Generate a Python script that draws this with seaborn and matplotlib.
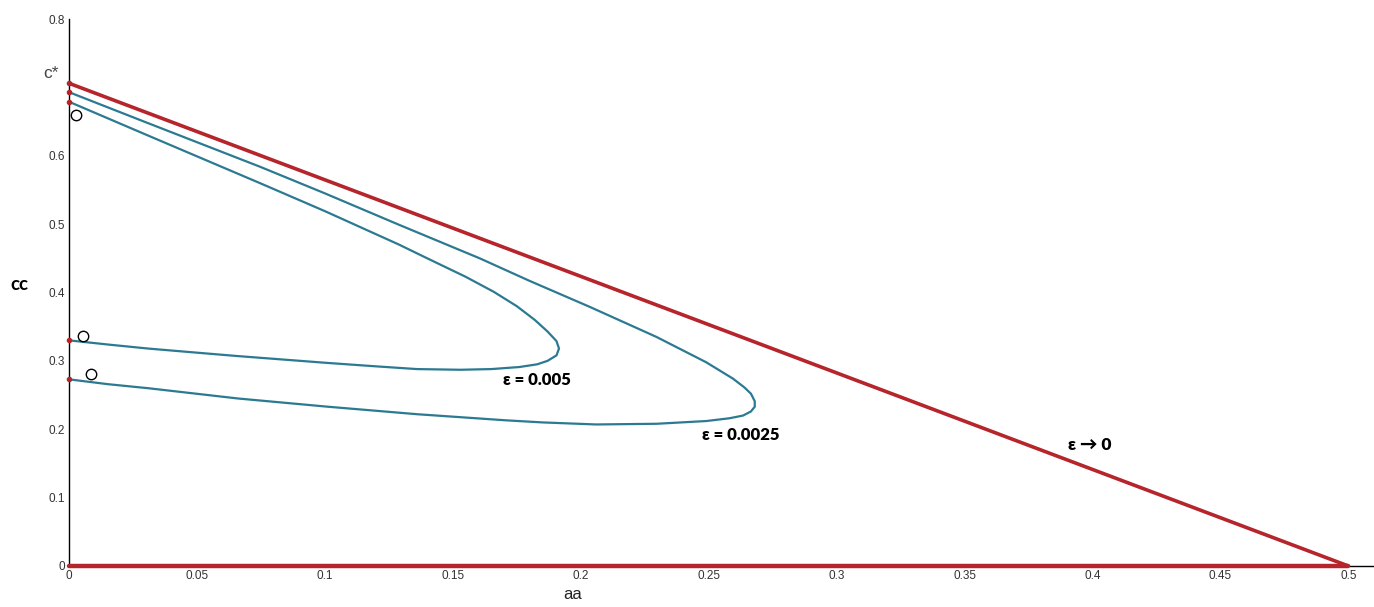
import numpy as np
import pandas as pd
import matplotlib
matplotlib.use('Agg')
import matplotlib.pyplot as plt
import seaborn as sns

# values
c_star = 0.706
a_limit = [0.0, 0.5]
c_limit = [c_star, 0.0]
a_floor = [0.0, 0.5]
c_floor = [0.0, 0.0]

a_eps1 = [0, 0.03, 0.0746, 0.10, 0.129, 0.14, 0.155, 0.166, 0.175, 0.182, 0.187, 0.1905,
          0.1915, 0.1905, 0.187, 0.183, 0.176, 0.165, 0.153, 0.136, 0.12, 0.101, 0.08,
          0.066, 0.05, 0.031, 0.015, 0]
c_eps1 = [0.679, 0.631, 0.560, 0.519, 0.470, 0.450, 0.423, 0.401, 0.380, 0.360, 0.343, 0.329,
          0.318, 0.308, 0.300, 0.295, 0.291, 0.288, 0.287, 0.288, 0.292, 0.297, 0.303,
          0.307, 0.312, 0.318, 0.324, 0.330]

a_eps2 = [0, 0.03, 0.0746, 0.10, 0.129, 0.1605, 0.18, 0.2035, 0.2296, 0.249, 0.2595, 0.264,
          0.2665, 0.268, 0.268, 0.2665, 0.2634, 0.258, 0.249, 0.2296, 0.206, 0.185, 0.171,
          0.136, 0.101, 0.066, 0.031, 0.015, 0]
c_eps2 = [0.693, 0.649, 0.584, 0.545, 0.499, 0.450, 0.417, 0.379, 0.335, 0.298, 0.274, 0.261,
          0.252, 0.241, 0.233, 0.226, 0.220, 0.216, 0.212, 0.208, 0.207, 0.210, 0.213,
          0.222, 0.233, 0.245, 0.260, 0.266, 0.273]

axis_hits = [0.706, 0.693, 0.679, 0.330, 0.273]
circle_a = [0.0027, 0.0053, 0.0085]
circle_c = [0.660, 0.337, 0.281]

x_ticks = [0, 0.05, 0.1, 0.15, 0.2, 0.25, 0.3, 0.35, 0.4, 0.45, 0.5]
x_tick_labels = ['0', '0.05', '0.1', '0.15', '0.2', '0.25', '0.3', '0.35', '0.4', '0.45', '0.5']
y_ticks = [0, 0.1, 0.2, 0.3, 0.4, 0.5, 0.6, 0.7, 0.8]
y_tick_labels = ['0', '0.1', '0.2', '0.3', '0.4', '0.5', '0.6', '', '0.8']

red = '#b5252b'
blue = '#2c7a92'
bold_font = ['Lato', 'DejaVu Sans']

sns.set_style('white')
plt.rcParams['font.family'] = ['Liberation Sans', 'DejaVu Sans']

fig = plt.figure(figsize=(13.74, 6.07), dpi=100)
ax = fig.add_axes([69 / 1374, 1 - 566 / 607, 1305 / 1374, 547 / 607])

df1 = pd.DataFrame({'aa': a_eps1, 'cc': c_eps1})
df2 = pd.DataFrame({'aa': a_eps2, 'cc': c_eps2})
sns.lineplot(data=df1, x='aa', y='cc', sort=False, estimator=None, color=blue, lw=1.6, ax=ax)
sns.lineplot(data=df2, x='aa', y='cc', sort=False, estimator=None, color=blue, lw=1.6, ax=ax)

sns.lineplot(x=a_limit, y=c_limit, color=red, lw=2.6, ax=ax)
ax.plot(a_floor, c_floor, color=red, lw=3.2, clip_on=False, zorder=5)

ax.plot([0] * len(axis_hits), axis_hits, 'o', color=red, ms=3, clip_on=False, zorder=6)
ax.plot(circle_a, circle_c, 'o', mfc='white', mec='black', ms=7.5, mew=1.0, zorder=6)

ax.set_xlim(0, 0.51)
ax.set_ylim(0, 0.8)
ax.set_xticks(x_ticks)
ax.set_xticklabels(x_tick_labels)
ax.set_yticks(y_ticks)
ax.set_yticklabels(y_tick_labels)
ax.tick_params(direction='in', length=6, width=0.8, labelsize=8.5, labelcolor='#333333', pad=3)

for s in ['top', 'right']:
    ax.spines[s].set_visible(False)
for s in ['left', 'bottom']:
    ax.spines[s].set_color('black')
    ax.spines[s].set_linewidth(1.0)

ax.set_xlabel('aa', fontsize=12, color='#222222', va='center')
ax.xaxis.set_label_coords(0.386, -0.052)
ax.set_ylabel('cc', rotation=0, fontsize=13.5, fontweight='bold', family=bold_font, color='black')
ax.yaxis.set_label_coords(-0.038, 0.5)

ax.text(-0.004, 0.72, 'c*', fontsize=12.5, color='#444444', ha='right', va='center', clip_on=False)

ax.text(0.183, 0.272, 'ε = 0.005', fontsize=12, fontweight='heavy', family=bold_font,
        color='black', ha='center', va='center')
ax.text(0.2624, 0.192, 'ε = 0.0025', fontsize=12, fontweight='heavy', family=bold_font,
        color='black', ha='center', va='center')
ax.text(0.3988, 0.177, 'ε → 0', fontsize=12.5, fontweight='heavy', family=bold_font,
        color='black', ha='center', va='center')

if ax.get_legend() is not None:
    ax.get_legend().remove()

fig.savefig('out.png', dpi=100)
